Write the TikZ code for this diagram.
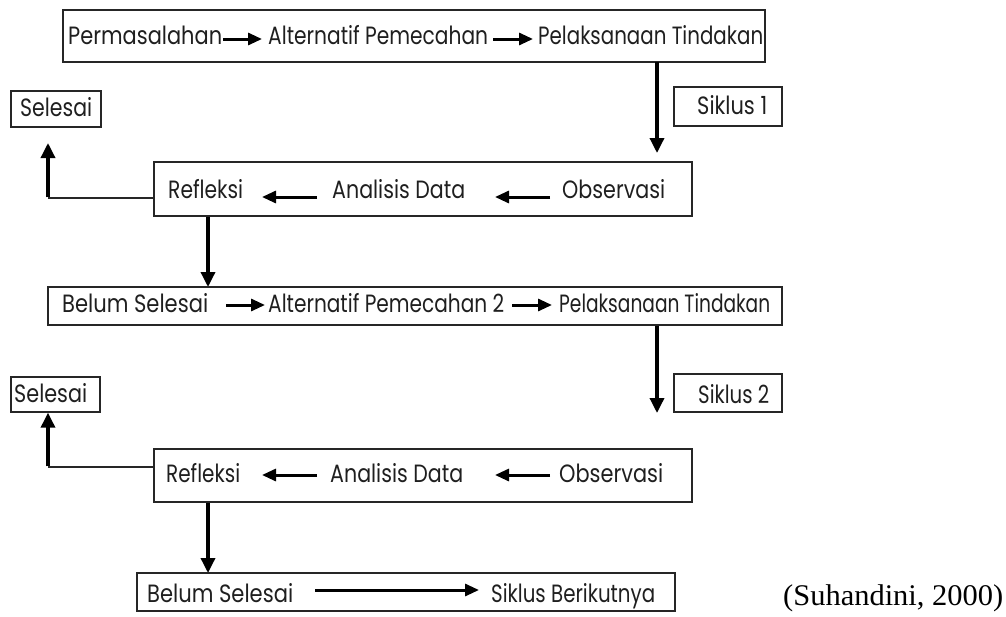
\documentclass[tikz,border=0pt]{standalone}
\usepackage{fontspec}
\setmainfont{Liberation Serif}
\newfontfamily\gsans{Poppins}
\usetikzlibrary{arrows.meta}
\newlength\fwlen
\newcommand{\fw}[2]{\settowidth{\fwlen}{#2}%
  \edef\fwtmp{\noexpand\addfontfeature{FakeStretch=\fpeval{round(#1/(\fwlen),4)}}}%
  {\fwtmp #2}}
\tikzset{
  x=1pt, y=1pt,
  box/.style={draw=black!85, line width=1.4pt, rectangle, inner sep=0pt},
  lbl/.style={anchor=base west, inner sep=0pt, font=\gsans\fontsize{25}{25}\selectfont, text=black!88},
  thk/.style={line width=3.4pt, -{Triangle[length=15pt,width=14pt]}},
  harr/.style={line width=3pt, -{Triangle[length=14pt,width=12pt]}},
  thinl/.style={line width=1.4pt, draw=black!85},
}
\begin{document}
\begin{tikzpicture}
\useasboundingbox (0,0) rectangle (1006,-616);
% ---- top box
\node[box, minimum width=702pt, minimum height=52pt] (B1) at (414,-36) {};
\node[lbl] (t11) at (68,-44) {\fw{154}{Permasalahan}};
\node[lbl] (t12) at (268,-44) {\fw{220}{Alternatif Pemecahan}};
\node[lbl] (t13) at (538,-44) {\fw{225}{Pelaksanaan Tindakan}};
\coordinate (a11s) at (223,-39); \coordinate (a11e) at (262,-39);
\coordinate (a12s) at (493,-39); \coordinate (a12e) at (533,-39);
\draw[harr] (a11s) -- (a11e);
\draw[harr] (a12s) -- (a12e);
% ---- siklus 1
\node[box, minimum width=108pt, minimum height=39pt] (S1) at (728,-106.5) {};
\node[lbl] (s1t) at (697,-114) {\fw{70}{Siklus 1}};
\coordinate (v1s) at (657,-62); \coordinate (v1e) at (657,-153);
\draw[thk] (v1s) -- (v1e);
% ---- selesai 1
\node[box, minimum width=90pt, minimum height=36pt] (E1) at (56,-109) {};
\node[lbl] (e1t) at (20,-116) {\fw{72}{Selesai}};
% ---- refleksi box 1
\node[box, minimum width=538pt, minimum height=54pt] (R1) at (423,-189) {};
\node[lbl] (r11) at (168,-198) {\fw{75}{Refleksi}};
\node[lbl] (r12) at (332,-198) {\fw{133}{Analisis Data}};
\node[lbl] (r13) at (562,-198) {\fw{103}{Observasi}};
\coordinate (a13s) at (317,-197); \coordinate (a13e) at (262,-197);
\coordinate (a14s) at (550,-197); \coordinate (a14e) at (495,-197);
\draw[harr] (a13s) -- (a13e);
\draw[harr] (a14s) -- (a14e);
\coordinate (c1) at (48,-198); \coordinate (u1e) at (48,-143);
\draw[thinl] (R1.west |- c1) -- (c1);
\draw[thk] ([yshift=0.7pt]c1) -- (u1e);
% ---- box 3
\coordinate (d1e) at (208,-287);
\draw[thk] (R1.south -| d1e) -- (d1e);
\node[box, minimum width=734pt, minimum height=38pt] (B3) at (415,-306) {};
\node[lbl] (t31) at (62,-312) {\fw{146}{Belum Selesai}};
\node[lbl] (t32) at (268,-312) {\fw{236}{Alternatif Pemecahan 2}};
\node[lbl] (t33) at (559,-312) {\fw{211}{Pelaksanaan Tindakan}};
\coordinate (a31s) at (226,-305); \coordinate (a31e) at (265,-305);
\coordinate (a32s) at (512,-305); \coordinate (a32e) at (552,-305);
\draw[harr] (a31s) -- (a31e);
\draw[harr] (a32s) -- (a32e);
% ---- siklus 2
\coordinate (v2e) at (657,-413);
\draw[thk] (B3.south -| v2e) -- (v2e);
\node[box, minimum width=108pt, minimum height=38pt] (S2) at (728,-393) {};
\node[lbl] (s2t) at (698,-403) {\fw{71}{Siklus 2}};
% ---- selesai 2
\node[box, minimum width=89pt, minimum height=35pt] (E2) at (55.5,-394.5) {};
\node[lbl] (e2t) at (14,-402) {\fw{73}{Selesai}};
% ---- refleksi box 2
\node[box, minimum width=538pt, minimum height=53pt] (R2) at (423,-475.5) {};
\node[lbl] (r21) at (166,-482) {\fw{74}{Refleksi}};
\node[lbl] (r22) at (330,-482) {\fw{133}{Analisis Data}};
\node[lbl] (r23) at (559,-482) {\fw{104}{Observasi}};
\coordinate (a23s) at (317,-475); \coordinate (a23e) at (262,-475);
\coordinate (a24s) at (550,-475); \coordinate (a24e) at (495,-475);
\draw[harr] (a23s) -- (a23e);
\draw[harr] (a24s) -- (a24e);
\coordinate (c2) at (48,-467);
\draw[thinl] (R2.west |- c2) -- (c2);
\draw[thk] ([yshift=0.7pt]c2) -- (E2.south -| c2);
% ---- box 4
\coordinate (d2e) at (208,-573);
\draw[thk] (R2.south -| d2e) -- (d2e);
\node[box, minimum width=538pt, minimum height=38pt] (B4) at (406,-592) {};
\node[lbl] (t41) at (147,-602) {\fw{146}{Belum Selesai}};
\node[lbl] (t42) at (491,-602) {\fw{164}{Siklus Berikutnya}};
\coordinate (a41s) at (315,-590); \coordinate (a41e) at (479,-590);
\draw[harr] (a41s) -- (a41e);
% ---- source
\node[anchor=base west, inner sep=0pt, font=\fontsize{30}{30}\selectfont] (src) at (783,-605) {\fw{220}{(Suhandini, 2000)}};
\end{tikzpicture}
\end{document}
